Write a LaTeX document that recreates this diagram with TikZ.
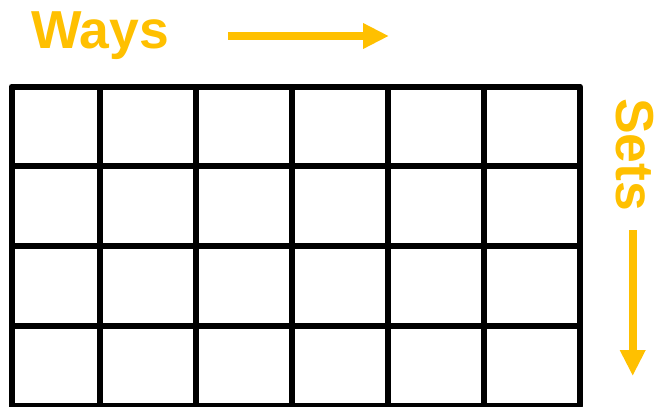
\documentclass[tikz,border=0pt]{standalone}
\usepackage{fontspec}
\setmainfont{Liberation Sans}
\usetikzlibrary{arrows.meta}
\definecolor{amber}{HTML}{FFC000}
\tikzset{
  gridline/.style={line width=6pt, black, line join=round},
  lbl/.style={inner sep=0pt, text=amber, font=\bfseries\fontsize{53.5}{53.5}\selectfont},
  dirarrow/.style={line width=8pt, amber, -{Triangle[length=26pt,width=24pt]}}
}
\begin{document}
\begin{tikzpicture}[x=1pt,y=-1pt]
\useasboundingbox (0,0) rectangle (662,407);
\begin{scope}
\clip (0,0) rectangle (662,407);
\draw[gridline] (11.5,86.5) rectangle (580,406.3);
\foreach \x in {100,196,292,388,484}
  \draw[gridline] (\x,86.5) -- (\x,406.3);
\foreach \y in {166.3,246.3,326.3}
  \draw[gridline] (11.5,\y) -- (580,\y);
\end{scope}
\node[lbl, anchor=base west] (ways) at (31,48) {Ways};
\node[lbl, anchor=base west, rotate=-90] (sets) at (616,98) {Sets};
\coordinate (wa) at (228,36);
\coordinate (wb) at (389,36);
\coordinate (sa) at (632.7,230);
\coordinate (sb) at (632.7,376);
\draw[dirarrow] (wa) -- (wb);
\draw[dirarrow] (sa) -- (sb);
\end{tikzpicture}
\end{document}
